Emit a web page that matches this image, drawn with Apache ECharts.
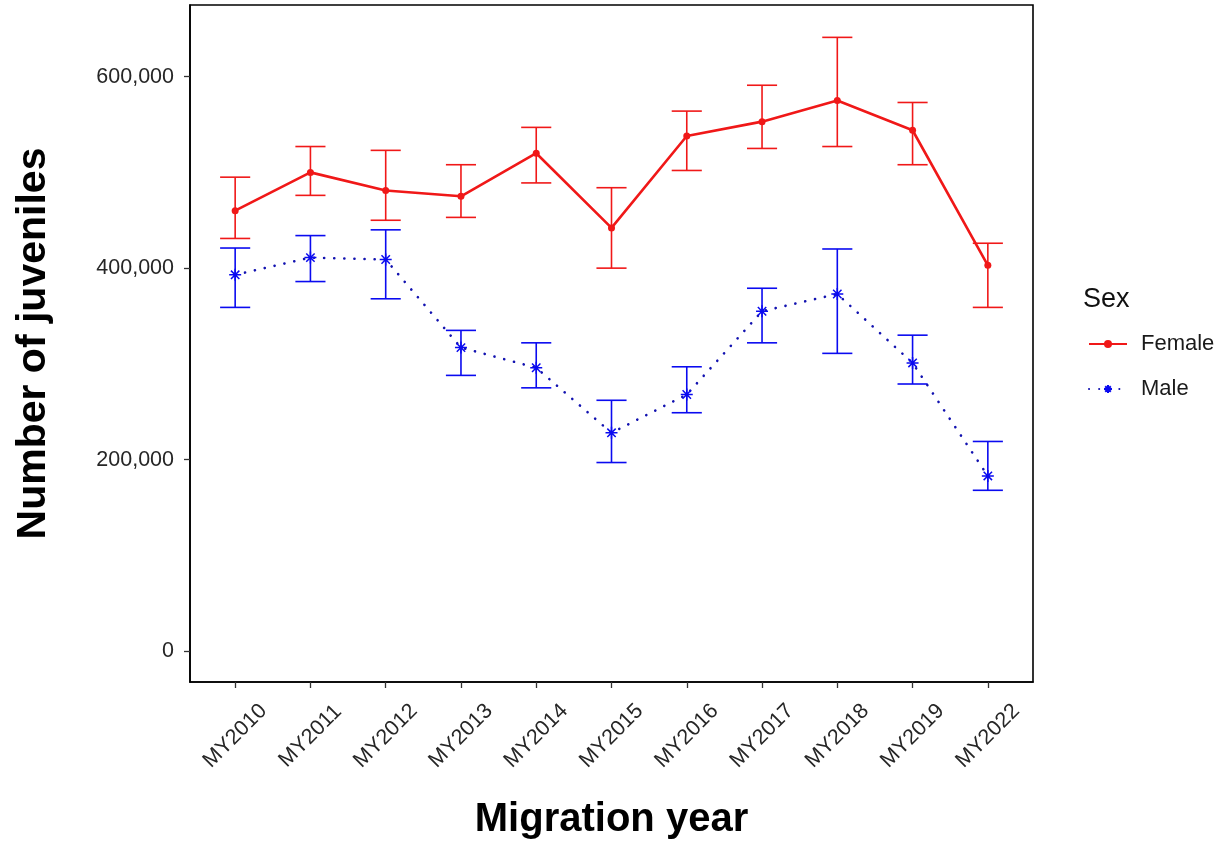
<!DOCTYPE html>
<html>
<head>
<meta charset="utf-8">
<script src="https://cdn.jsdelivr.net/npm/echarts@6/dist/echarts.min.js"></script>
<style>
  html, body { margin: 0; padding: 0; background: #fff; }
  #chart { width: 1226px; height: 845px; }
</style>
</head>
<body>
<div id="chart"></div>
<script>
// Migration years (category labels along the x axis)
const years = ['MY2010', 'MY2011', 'MY2012', 'MY2013', 'MY2014', 'MY2015',
               'MY2016', 'MY2017', 'MY2018', 'MY2019', 'MY2022'];

// Female juvenile estimates with lower / upper interval bounds
const femaleMean = [460000, 500000, 481000, 475000, 520000, 442000, 538000, 553000, 575000, 544000, 403000];
const femaleLow  = [431000, 476000, 450000, 453000, 489000, 400000, 502000, 525000, 527000, 508000, 359000];
const femaleHigh = [495000, 527000, 523000, 508000, 547000, 484000, 564000, 591000, 641000, 573000, 426000];

// Male juvenile estimates with lower / upper interval bounds
const maleMean = [393000, 411000, 409000, 317000, 296000, 228000, 268000, 355000, 373000, 301000, 183000];
const maleLow  = [359000, 386000, 368000, 288000, 275000, 197000, 249000, 322000, 311000, 279000, 168000];
const maleHigh = [421000, 434000, 440000, 335000, 322000, 262000, 297000, 379000, 420000, 330000, 219000];

// Y axis tick values
const yTicks = [0, 200000, 400000, 600000];

const RED = '#F01818';
const BLUE = '#0A0AF0';
const FONT = '"Liberation Sans", Arial, sans-serif';

const idx = years.map((_, i) => i);
const pts = (vals) => vals.map((v, i) => [i, v]);
const bars = (lo, hi) => lo.map((v, i) => [i, v, hi[i]]);

// Asterisk marker: a plus and a cross drawn as strokes
const ASTERISK = 'path://M10,0L10,20M0,10L20,10M3,3L17,17M3,17L17,3';

function errorBar(color) {
  return function (params, api) {
    const x = api.value(0);
    const lo = api.coord([x, api.value(1)]);
    const hi = api.coord([x, api.value(2)]);
    const half = api.size([0.4, 0])[0] / 2;
    const style = { stroke: color, lineWidth: 1.6 };
    return {
      type: 'group',
      children: [
        { type: 'line', shape: { x1: lo[0], y1: lo[1], x2: hi[0], y2: hi[1] }, style },
        { type: 'line', shape: { x1: hi[0] - half, y1: hi[1], x2: hi[0] + half, y2: hi[1] }, style },
        { type: 'line', shape: { x1: lo[0] - half, y1: lo[1], x2: lo[0] + half, y2: lo[1] }, style }
      ]
    };
  };
}

const chart = echarts.init(document.getElementById('chart'), null, { renderer: 'canvas' });

chart.setOption({
  animation: false,
  backgroundColor: '#ffffff',
  textStyle: { fontFamily: FONT },
  title: {
    text: 'Sex',
    left: 1078,
    top: 281,
    textStyle: { fontFamily: FONT, fontSize: 27, fontWeight: 'normal', color: '#111' }
  },
  legend: {
    orient: 'vertical',
    left: 1083,
    top: 328,
    itemWidth: 38,
    itemHeight: 10,
    itemGap: 23,
    textStyle: { fontFamily: FONT, fontSize: 22, color: '#1a1a1a', padding: [0, 0, 0, 9] },
    data: ['Female', 'Male']
  },
  grid: {
    left: 190,
    right: 193,
    top: 5,
    bottom: 159,
    show: true,
    borderColor: '#000',
    borderWidth: 1.6,
    backgroundColor: '#fff'
  },
  xAxis: {
    type: 'value',
    min: -0.6,
    max: 10.6,
    splitLine: { show: false },
    axisLine: { show: true, onZero: false, lineStyle: { color: '#000', width: 1.6 } },
    axisTick: { show: true, length: 6, customValues: idx, lineStyle: { color: '#333', width: 1.3 } },
    axisLabel: {
      customValues: idx,
      formatter: (v) => years[Math.round(v)],
      rotate: 45,
      align: 'center',
      verticalAlign: 'middle',
      margin: 54,
      fontFamily: FONT,
      fontSize: 21.5,
      color: '#262626'
    },
    name: 'Migration year',
    nameLocation: 'middle',
    nameGap: 118,
    nameTextStyle: { fontFamily: FONT, fontSize: 40, fontWeight: 'bold', color: '#000' }
  },
  yAxis: {
    type: 'value',
    min: -32200,
    max: 674800,
    splitLine: { show: false },
    axisLine: { show: true, onZero: false, lineStyle: { color: '#000', width: 1.6 } },
    axisTick: { show: true, length: 6, customValues: yTicks, lineStyle: { color: '#333', width: 1.3 } },
    axisLabel: {
      customValues: yTicks,
      formatter: (v) => v.toLocaleString('en-US'),
      margin: 16,
      fontFamily: FONT,
      fontSize: 21.5,
      color: '#262626'
    },
    name: 'Number of juveniles',
    nameLocation: 'middle',
    nameGap: 136,
    nameTextStyle: { fontFamily: FONT, fontSize: 41, fontWeight: 'bold', color: '#000' }
  },
  series: [
    {
      name: 'FemaleBars',
      type: 'custom',
      renderItem: errorBar(RED),
      data: bars(femaleLow, femaleHigh),
      encode: { x: 0, y: [1, 2] },
      z: 2,
      silent: true
    },
    {
      name: 'MaleBars',
      type: 'custom',
      renderItem: errorBar(BLUE),
      data: bars(maleLow, maleHigh),
      encode: { x: 0, y: [1, 2] },
      z: 2,
      silent: true
    },
    {
      name: 'Female',
      type: 'line',
      data: pts(femaleMean),
      symbol: 'circle',
      symbolSize: 7,
      color: RED,
      itemStyle: { color: RED },
      lineStyle: { color: RED, width: 2.6 },
      z: 3
    },
    {
      name: 'Male',
      type: 'line',
      data: pts(maleMean),
      symbol: ASTERISK,
      symbolSize: 12,
      color: BLUE,
      itemStyle: { color: BLUE, borderColor: BLUE, borderWidth: 1.5 },
      lineStyle: { color: '#1212B0', width: 2.6, type: [0.1, 10], cap: 'round' },
      z: 3
    }
  ]
});
</script>
</body>
</html>
